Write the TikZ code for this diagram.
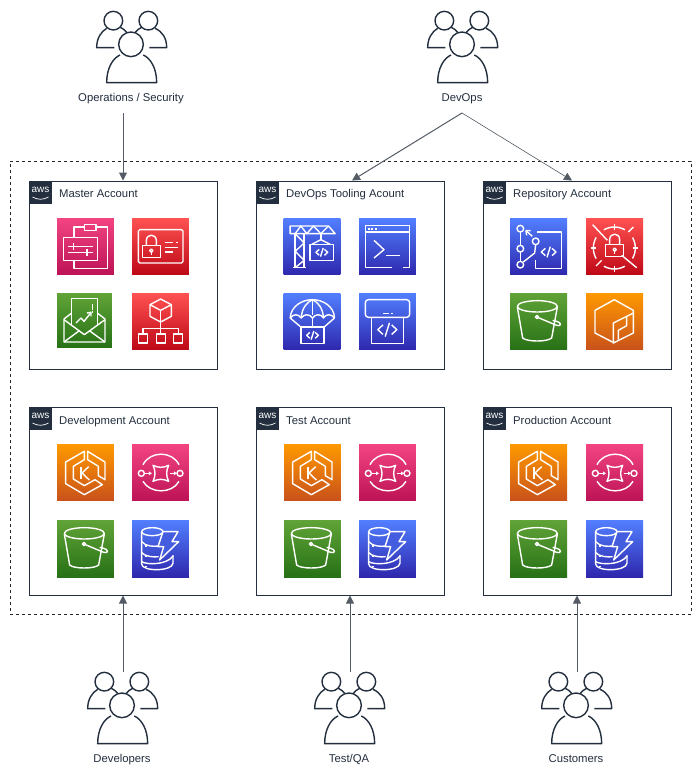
\documentclass[tikz,border=0pt]{standalone}
\usepackage{fontspec}
\setmainfont{Liberation Sans}
\usetikzlibrary{arrows.meta}
\definecolor{awsnavy}{RGB}{35, 47, 62}
\definecolor{linkgray}{RGB}{84, 91, 100}
\definecolor{pink1}{RGB}{243, 68, 130}
\definecolor{pink2}{RGB}{188, 19, 86}
\definecolor{red1}{RGB}{255, 82, 82}
\definecolor{red2}{RGB}{189, 8, 22}
\definecolor{green1}{RGB}{96, 163, 55}
\definecolor{green2}{RGB}{39, 113, 22}
\definecolor{blue1}{RGB}{82, 127, 255}
\definecolor{blue2}{RGB}{46, 39, 173}
\definecolor{orange1}{RGB}{255, 153, 0}
\definecolor{orange2}{RGB}{200, 81, 27}
\tikzset{
  iconunit/.style={x=0.3333pt, y=-0.3333pt, white, line width=1.4pt, line join=round},
  peopleunit/.style={x=0.3333pt, y=-0.3333pt, awsnavy, line width=1.4pt, line join=round},
  pinktile/.style={top color=pink1, bottom color=pink2},
  redtile/.style={top color=red1, bottom color=red2},
  greentile/.style={top color=green1, bottom color=green2},
  bluetile/.style={top color=blue1, bottom color=blue2},
  orangetile/.style={top color=orange1, bottom color=orange2},
  account/.style={rectangle, draw=awsnavy, line width=1pt, minimum size=188pt, inner sep=0pt},
  title/.style={anchor=west, inner sep=0pt, text=awsnavy, text height=8pt, text depth=2pt, font=\fontsize{11.3}{13}\selectfont},
  userlabel/.style={inner sep=0pt, text=awsnavy, text height=8pt, text depth=2pt, font=\fontsize{11.3}{13}\selectfont},
  link/.style={draw=linkgray, line width=1pt, -{Triangle[length=8pt, width=8pt]}},
  envelope/.style={rectangle, draw=black!85, line width=0.9pt, dash pattern=on 3pt off 3pt, inner sep=0pt},
  awsmark/.pic={
    \node (-tile) [fill=awsnavy, minimum size=23pt, inner sep=0pt] at (0,0) {};
    \node (-word) [text=white, inner sep=0pt, font=\fontsize{10}{10}\selectfont] at (0,-2.5) {aws};
    \draw [white, line width=0.7pt] (-8,4.5) .. controls (-3,7.5) and (3,7.5) .. (8,4.5);
  },
  codemark/.pic={
    \draw (-10,-11) -- (-22,0) -- (-10,11);
    \draw (10,-11) -- (22,0) -- (10,11);
    \draw (-5,16) -- (5,-16);
  },
  padlock/.pic={
    \draw (-27,-18) rectangle (27,18);
    \draw (-15,-18) -- (-15,-32) .. controls (-15,-54) and (15,-54) .. (15,-32) -- (15,-18);
    \draw (0,-2) circle (5);
    \draw (0,3) -- (0,11);
  },
  people/.pic={
    \begin{scope}[peopleunit]
    \draw (0,133) circle (37);
    \draw (-33,165) .. controls (-55,175) and (-73,205) .. (-73,248) -- (77,248) .. controls (77,205) and (59,175) .. (37,165);
    \draw (-53,62) circle (28);
    \draw (52,62) circle (28);
    \draw (-50,143) -- (-103,143) .. controls (-103,115) and (-90,95) .. (-73,85);
    \draw (55,143) -- (107,143) .. controls (107,115) and (95,95) .. (72,85);
    \draw (-32,82) .. controls (-24,86) and (-18,90) .. (-13,97);
    \draw (32,82) .. controls (24,86) and (18,90) .. (13,97);
    \end{scope}
  },
  clipboard/.pic={
    \begin{scope}[iconunit]
    \fill [pinktile] (0,0) rectangle (171,171);
    \draw (51,59) -- (51,27) -- (82,27);
    \draw (117,27) -- (152,27) -- (152,152) -- (51,152) -- (51,127);
    \draw (82,20) rectangle (117,38);
    \draw (19,59) rectangle (122,127);
    \draw (33,85) -- (108,85);
    \draw (50,75) -- (50,95);
    \draw (33,104) -- (108,104);
    \draw (90,94) -- (90,114);
    \end{scope}
  },
  idcard/.pic={
    \begin{scope}[iconunit]
    \fill [redtile] (0,0) rectangle (171,171);
    \draw [rounded corners=1.5pt] (19,35) rectangle (153,135);
    \pic at (58,100) {padlock};
    \draw (98,74) -- (123,74);
    \draw (131,74) -- (138,74);
    \draw (98,89) -- (138,89);
    \draw (98,102) -- (123,102);
    \end{scope}
  },
  budgetmail/.pic={
    \begin{scope}[iconunit]
    \fill [greentile] (0,0) rectangle (165,165);
    \draw (44,97) -- (44,17) -- (121,17) -- (121,97);
    \draw (44,60) -- (21,78) -- (21,147) -- (144,147) -- (144,78) -- (121,60);
    \draw (21,80) -- (82,125) -- (144,80);
    \draw (21,147) -- (67,113);
    \draw (144,147) -- (97,113);
    \draw (57,90) -- (72,75) -- (81,85) -- (101,60);
    \draw (90,60) -- (102,58) -- (102,70);
    \draw (107,32) -- (107,50);
    \draw (107,55) -- (107,59);
    \end{scope}
  },
  orgtree/.pic={
    \begin{scope}[iconunit]
    \fill [redtile] (0,0) rectangle (171,171);
    \draw (86,18) -- (118,35) -- (118,70) -- (86,87) -- (54,70) -- (54,35) -- cycle;
    \draw (54,35) -- (86,52) -- (118,35);
    \draw (86,52) -- (86,123);
    \draw (33,123) -- (33,107) -- (139,107) -- (139,123);
    \draw (20,123) rectangle (46,150);
    \draw (73,123) rectangle (100,150);
    \draw (125,123) rectangle (152,150);
    \end{scope}
  },
  crane/.pic={
    \begin{scope}[iconunit]
    \fill [bluetile] (0,0) rectangle (171,171);
    \draw (155,47) -- (135,24) -- (20,24) -- (20,47) -- cycle;
    \draw (35,47) -- (52,24) -- (70,47) -- (90,24) -- (112,47) -- (135,24);
    \draw (35,47) -- (35,149);
    \draw (62,47) -- (62,149);
    \draw (35,47) -- (62,75) -- (35,100) -- (62,127) -- (35,149);
    \draw (28,149) -- (68,149);
    \draw (112,47) -- (112,65);
    \draw (85,79) -- (112,65) -- (140,79);
    \draw (80,79) rectangle (150,127);
    \pic [scale=0.8] at (115,103) {codemark};
    \end{scope}
  },
  terminal/.pic={
    \begin{scope}[iconunit]
    \fill [bluetile] (0,0) rectangle (171,171);
    \draw (100,149) -- (19,149) -- (19,22) -- (152,22) -- (152,149) -- (132,149);
    \draw (19,42) -- (152,42);
    \draw (27,33) -- (33,33);
    \draw (37,33) -- (43,33);
    \draw (47,33) -- (53,33);
    \draw (45,67) -- (75,95) -- (45,120);
    \draw (80,112) -- (122,112);
    \end{scope}
  },
  parachute/.pic={
    \begin{scope}[iconunit]
    \fill [bluetile] (0,0) rectangle (171,171);
    \draw (20,75) .. controls (22,40) and (55,20) .. (87,20) .. controls (118,20) and (152,40) .. (153,75);
    \draw (20,75) .. controls (30,62) and (45,62) .. (53,75) .. controls (62,62) and (78,62) .. (87,75) .. controls (96,62) and (112,62) .. (120,75) .. controls (128,62) and (143,62) .. (153,75);
    \draw (53,75) .. controls (55,45) and (70,28) .. (87,20) .. controls (104,28) and (118,45) .. (120,75);
    \draw (87,20) -- (87,65);
    \draw (20,75) -- (52,102);
    \draw (153,75) -- (122,102);
    \draw (87,75) -- (87,102);
    \draw (52,102) rectangle (122,152);
    \pic [scale=0.8] at (87,127) {codemark};
    \end{scope}
  },
  deploybox/.pic={
    \begin{scope}[iconunit]
    \fill [bluetile] (0,0) rectangle (171,171);
    \draw [rounded corners=3pt] (19,20) rectangle (152,73);
    \draw (72,62) -- (90,62);
    \draw (97,62) -- (103,62);
    \draw (37,73) rectangle (134,152);
    \pic [scale=1.3] at (85,110) {codemark};
    \end{scope}
  },
  commitflow/.pic={
    \begin{scope}[iconunit]
    \fill [bluetile] (0,0) rectangle (171,171);
    \draw (31,32) circle (10);
    \draw (31,92) circle (10);
    \draw (31,140) circle (10);
    \draw (77,70) circle (10);
    \draw (31,42) -- (31,82);
    \draw (31,102) -- (31,130);
    \draw (77,80) -- (74,105) -- (40,132);
    \draw (67,55) -- (49,39);
    \draw (50,52) -- (48,38) -- (62,38);
    \draw (81,42) -- (154,42) -- (154,152) -- (77,152) -- (77,127);
    \pic at (116,102) {codemark};
    \end{scope}
  },
  vaultring/.pic={
    \begin{scope}[iconunit]
    \fill [redtile] (0,0) rectangle (171,171);
    \foreach \from/\to in {60/120, 150/210, 240/300, -30/30}
      \draw plot [smooth, samples=9, domain=\from:\to] ({85+63*cos(\x)},{90+63*sin(\x)});
    \foreach \tick in {0, 90, 180, 270}
      \draw ({85+55*cos(\tick)},{90+55*sin(\tick)}) -- ({85+71*cos(\tick)},{90+71*sin(\tick)});
    \draw (20,20) -- (64,67);
    \draw (107,112) -- (152,149);
    \draw (127,42) -- (142,27);
    \draw (30,144) -- (47,127);
    \pic at (86,97) {padlock};
    \end{scope}
  },
  bucket/.pic={
    \begin{scope}[iconunit]
    \fill [greentile] (0,0) rectangle (171,171);
    \draw (82,40) ellipse (60 and 17);
    \draw (22,42) -- (38,135) .. controls (50,147) and (113,147) .. (125,135) -- (142,42);
    \draw (85,74) -- (140,97) .. controls (155,102) and (155,88) .. (140,85) .. controls (135,84) and (130,83) .. (128,82);
    \draw (81,72) circle (5);
    \end{scope}
  },
  artifact/.pic={
    \begin{scope}[iconunit]
    \fill [orangetile] (0,0) rectangle (171,171);
    \draw (85,150) -- (27,120) -- (27,52) -- (85,20) -- (142,52) -- (142,60);
    \draw (82,90) -- (142,60) -- (142,120) -- (82,150) -- cycle;
    \draw (97,140) -- (97,112) -- (122,98) -- (122,72);
    \end{scope}
  },
  eks/.pic={
    \begin{scope}[iconunit]
    \fill [orangetile] (0,0) rectangle (171,171);
    \draw (82,22) -- (26,54) -- (26,119) -- (82,152) -- (136,122) -- (114,107) -- (82,125) -- (49,105) -- (49,67) -- (82,47) -- cycle;
    \draw (92,22) -- (144,54) -- (144,107) -- (124,95) -- (124,67) -- (92,47) -- cycle;
    \draw (72,70) -- (72,105);
    \draw (95,68) -- (75,87) -- (97,108);
    \end{scope}
  },
  queue/.pic={
    \begin{scope}[iconunit]
    \fill [pinktile] (0,0) rectangle (171,171);
    \draw (33,62) .. controls (55,20) and (120,20) .. (141,62);
    \draw (33,112) .. controls (55,150) and (120,150) .. (141,112);
    \draw (28,88) circle (9);
    \draw (144,88) circle (9);
    \draw [-{Triangle[length=3pt, width=3.5pt]}] (38,88) -- (60,88);
    \draw [-{Triangle[length=3pt, width=3.5pt]}] (113,88) -- (135,88);
    \draw (63,64) .. controls (80,72) and (93,72) .. (110,64) .. controls (102,80) and (102,96) .. (110,112) .. controls (93,104) and (80,104) .. (63,112) .. controls (71,96) and (71,80) .. (63,64) -- cycle;
    \end{scope}
  },
  dynamo/.pic={
    \begin{scope}[iconunit]
    \fill [bluetile] (0,0) rectangle (171,171);
    \draw (61,35) ellipse (32 and 12);
    \draw (29,35) -- (29,132) .. controls (29,155) and (120,155) .. (123,130) -- (123,105);
    \draw (29,65) .. controls (40,80) and (70,80) .. (78,78);
    \draw (29,98) .. controls (40,110) and (65,112) .. (80,110);
    \draw (29,125) .. controls (45,135) and (105,135) .. (123,108);
    \draw (38,78) -- (44,78);
    \draw (38,110) -- (44,110);
    \draw (38,140) -- (44,140);
    \draw [fill=blue1!60!blue2] (93,35) -- (138,35) -- (120,65) -- (140,65) -- (83,120) -- (95,80) -- (78,80) -- cycle;
    \end{scope}
  },
}
\begin{document}
\begin{tikzpicture}[x=1pt, y=-1pt]
\useasboundingbox [fill=white] (0,0) rectangle (700,776);
\node (boundary) [envelope, minimum width=681pt, minimum height=453pt] at (350.5,387.5) {};
\node (master) [account] at (123,275) {};
\node (tooling) [account] at (350,275) {};
\node (repository) [account] at (577,275) {};
\node (development) [account] at (123,501) {};
\node (test) [account] at (350,501) {};
\node (production) [account] at (577,501) {};
\pic (masteraws) at (40.5,192.5) {awsmark};
\pic (toolingaws) at (267.5,192.5) {awsmark};
\pic (repositoryaws) at (494.5,192.5) {awsmark};
\pic (developmentaws) at (40.5,418.5) {awsmark};
\pic (testaws) at (267.5,418.5) {awsmark};
\pic (productionaws) at (494.5,418.5) {awsmark};
\node (mastertitle) [title] at (59,194.5) {Master Account};
\node (toolingtitle) [title] at (286,194.5) {DevOps Tooling Acount};
\node (repositorytitle) [title] at (513,194.5) {Repository Account};
\node (developmenttitle) [title] at (59,421.5) {Development Account};
\node (testtitle) [title] at (286,421.5) {Test Account};
\node (productiontitle) [title] at (513,421.5) {Production Account};
\pic at (57,218) {clipboard};
\pic at (132,218) {idcard};
\pic at (57,293) {budgetmail};
\pic at (132,293) {orgtree};
\pic at (283.5,218) {crane};
\pic at (359,218) {terminal};
\pic at (283.5,293) {parachute};
\pic at (359,293) {deploybox};
\pic at (510,218) {commitflow};
\pic at (586,218) {vaultring};
\pic at (510,293) {bucket};
\pic at (586,293) {artifact};
\pic at (57,444) {eks};
\pic at (132,444) {queue};
\pic at (57,520) {bucket};
\pic at (132,520) {dynamo};
\pic at (284,444) {eks};
\pic at (359,444) {queue};
\pic at (284,520) {bucket};
\pic at (359,520) {dynamo};
\pic at (510,444) {eks};
\pic at (586,444) {queue};
\pic at (510,520) {bucket};
\pic at (586,520) {dynamo};
\pic at (131,0) {people};
\pic at (462,0) {people};
\pic at (122,661) {people};
\pic at (349,661) {people};
\pic at (576,661) {people};
\node (operations) [userlabel] at (131,98) {Operations / Security};
\node (devops) [userlabel] at (462,98) {DevOps};
\node (developers) [userlabel] at (122,759) {Developers};
\node (testers) [userlabel] at (349,759) {Test/QA};
\node (customers) [userlabel] at (576,759) {Customers};
\coordinate (operationsout) at (123,113);
\coordinate (devopsout) at (462,113);
\coordinate (developersout) at (123,672);
\coordinate (testersout) at (350,672);
\coordinate (customersout) at (577,672);
\draw [link] (operationsout) to (master.north);
\draw [link] (devopsout) to ([xshift=2pt]tooling.north);
\draw [link, line width=0.6pt] (devopsout) to ([xshift=-5pt]repository.north);
\draw [link] (developersout) to (development.south);
\draw [link] (testersout) to (test.south);
\draw [link] (customersout) to (production.south);
\end{tikzpicture}
\end{document}
